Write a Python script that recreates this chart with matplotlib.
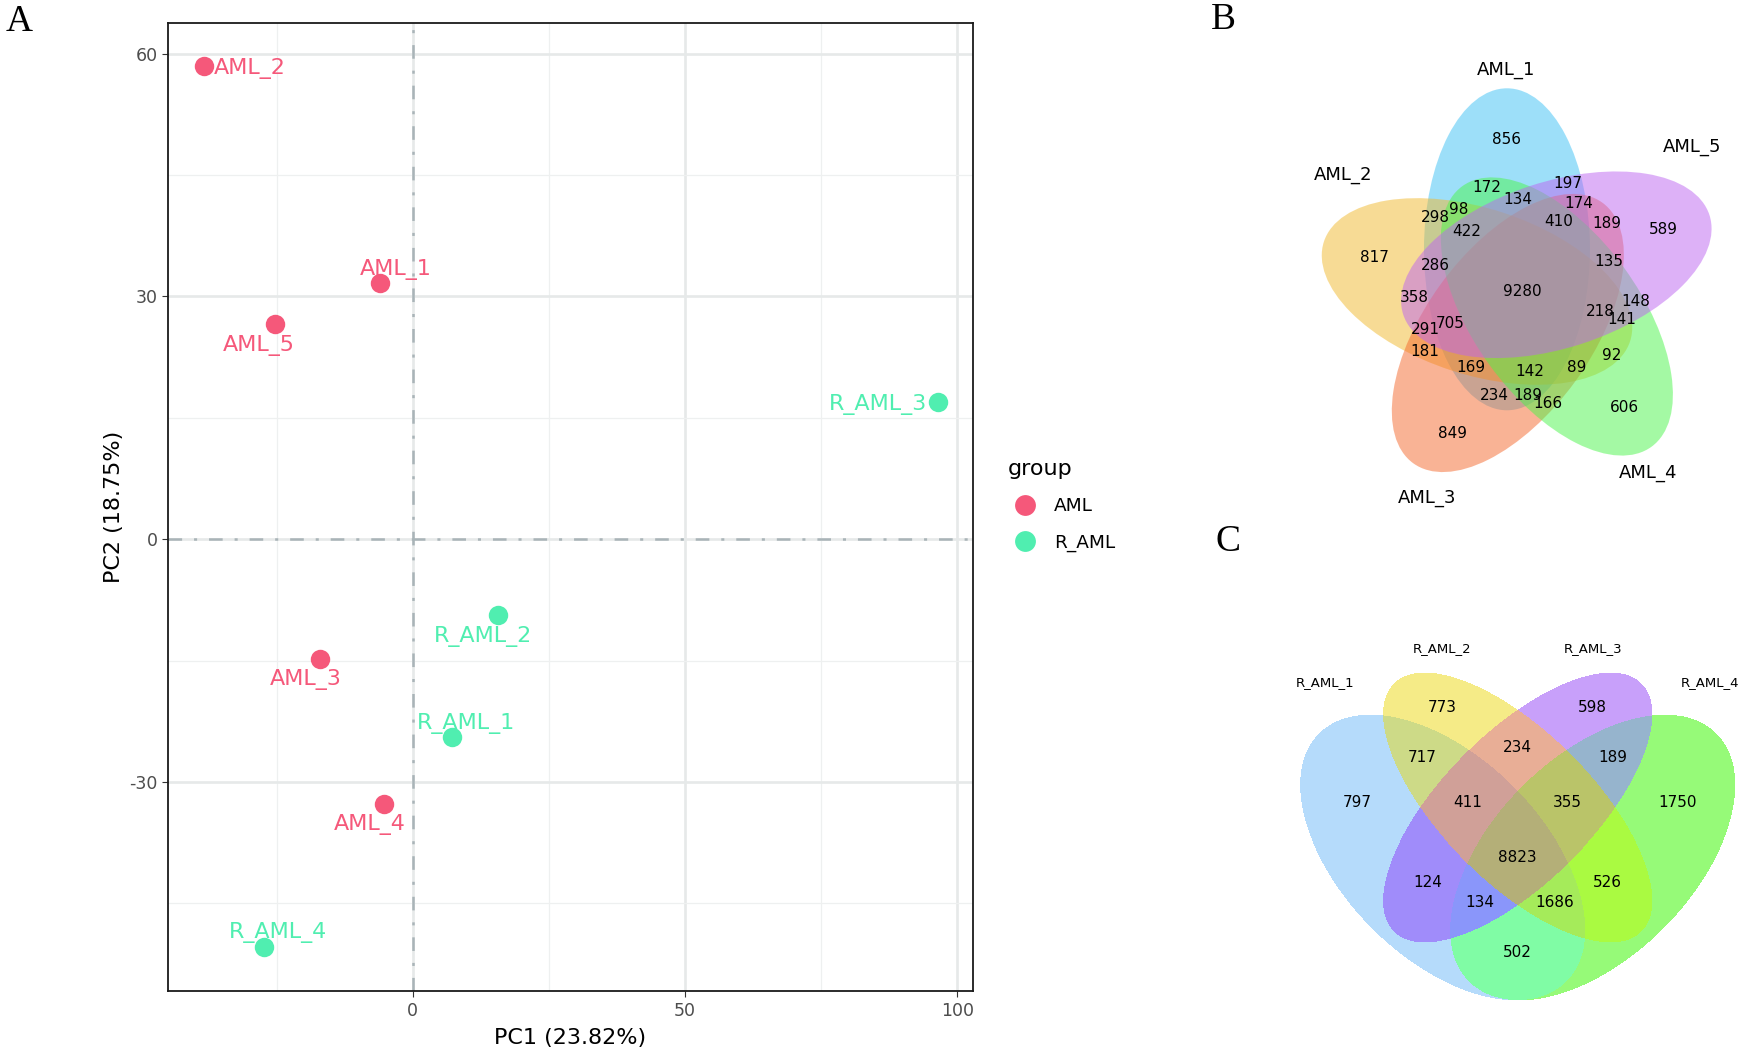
import matplotlib
matplotlib.use("Agg")
import matplotlib.pyplot as plt
from matplotlib.patches import Ellipse
from matplotlib.lines import Line2D
from matplotlib.colors import to_rgba
import numpy as np

plt.rcParams['lines.scale_dashes'] = False
plt.rcParams['axes.unicode_minus'] = False
plt.rcParams['font.family'] = ['DejaVu Sans']

# ---- datos: PCA (panel A) ----
aml_names = ["AML_1", "AML_2", "AML_3", "AML_4", "AML_5"]
aml_pc1 = [-5.95, -38.3, -17.1, -5.3, -25.3]
aml_pc2 = [31.7, 58.5, -14.8, -32.7, 26.6]
raml_names = ["R_AML_1", "R_AML_2", "R_AML_3", "R_AML_4"]
raml_pc1 = [7.2, 15.7, 96.4, -27.3]
raml_pc2 = [-24.5, -9.4, 16.9, -50.4]
pc1_var = 23.82
pc2_var = 18.75

# ---- datos: Venn de 5 conjuntos (panel B) ----
venn5_sets = ["AML_1", "AML_2", "AML_3", "AML_4", "AML_5"]
venn5_counts = [856, 172, 197, 134, 174, 298, 98, 410, 189, 589, 422, 817, 286,
                135, 9280, 358, 148, 218, 141, 291, 705, 181, 92, 169, 142, 89,
                234, 189, 166, 606, 849]

# ---- datos: Venn de 4 conjuntos (panel C) ----
venn4_sets = ["R_AML_1", "R_AML_2", "R_AML_3", "R_AML_4"]
venn4_counts = [773, 598, 717, 234, 189, 797, 411, 355, 1750, 8823, 124, 526,
                134, 1686, 502]

# ---- estilo / posiciones de etiquetas ----
col_aml = "#F5587A"
col_raml = "#50EEB0"
aml_offsets = [(10.8, 11.5), (33, 0), (-10, -13), (-10, -13), (-11.5, -13.7)]
raml_offsets = [(10, 12), (-11, -13.7), (-43, 0), (10, 12)]

venn5_colors = ["#3DC1F5", "#F1B92D", "#F5692D", "#4BF54B", "#BD65F1"]
venn5_label_xy = [(-15, 152), (-34, 103), (47, 107), (-3, 91), (58, 87),
                  (-86, 74), (-62, 82), (38, 70), (86, 68), (142, 62),
                  (-54, 59), (-147, 34), (-86, 25), (88, 29), (1, -1),
                  (-107, -7), (115, -11), (79, -21), (101, -29), (-96, -38),
                  (-71, -32), (-96, -60), (91, -64), (-50, -76), (9, -81),
                  (56, -76), (-27, -105), (7, -105), (27, -113), (103, -117),
                  (-69, -142)]
venn5_set_xy = [(-15, 221), (-178, 116), (-94, -207), (127, -182), (171, 144)]

# elipses del Venn de 4 (centro, ancho, alto, angulo) en coordenadas unitarias
venn4_ellipses = [((0.35, 0.47), 0.70, 0.40, -45),
                  ((0.50, 0.57), 0.70, 0.30, -45),
                  ((0.50, 0.57), 0.70, 0.30, 45),
                  ((0.65, 0.47), 0.70, 0.40, 45)]
# color de cada zona segun la combinacion de conjuntos (bit0 = R_AML_1 ... bit3 = R_AML_4)
venn4_zone_colors = {1: "#B5DBFB", 2: "#F5EB87", 4: "#C8A0FA", 8: "#96FA78",
                     3: "#CDDA87", 6: "#E8AE96", 12: "#96B4CD", 5: "#A08CFA",
                     10: "#AAFA41", 9: "#80FCA5", 7: "#D0A098", 14: "#BAC469",
                     13: "#8A96FA", 11: "#A5EB5A", 15: "#B4AF78"}
venn4_label_xy = [(0.35, 0.77), (0.65, 0.77), (0.31, 0.67), (0.50, 0.69),
                  (0.69, 0.67), (0.18, 0.58), (0.40, 0.58), (0.60, 0.58),
                  (0.82, 0.58), (0.50, 0.47), (0.32, 0.42), (0.68, 0.42),
                  (0.425, 0.38), (0.575, 0.38), (0.50, 0.28)]
venn4_set_xy = [(0.115, 0.819), (0.349, 0.887), (0.651, 0.887), (0.885, 0.819)]

W, H = 1744, 1048
fig = plt.figure(figsize=(W / 100, H / 100), dpi=100)

# ================= Panel A: PCA =================
ax = fig.add_axes([168.4 / W, 57.3 / H, 804.3 / W, 967.7 / H])
ax.set_xlim(-44.85, 102.8)
ax.set_ylim(-55.8, 63.8)
ax.set_xticks([0, 50, 100])
ax.set_xticks([-25, 25, 75], minor=True)
ax.set_yticks([-30, 0, 30, 60])
ax.set_yticks([-45, -15, 15, 45], minor=True)
ax.grid(which='major', color='#E6E9E9', lw=1.9, zorder=0)
ax.grid(which='minor', color='#EEF0F0', lw=0.9, zorder=0)
ax.set_axisbelow(True)
ax.tick_params(which='minor', length=0)
ax.tick_params(which='major', labelsize=12.5, labelcolor='#4D4D4D',
               color='#333333', length=4.3, width=0.8, pad=3.5)
for s in ax.spines.values():
    s.set_linewidth(1.3)
    s.set_color('#1A1A1A')

dotdash = (0, (9.8, 8.6, 2.2, 8.6))
ax.axvline(0, color='#A9B4B8', lw=1.8, ls=dotdash, zorder=1)
ax.axhline(0, color='#A9B4B8', lw=1.8, ls=dotdash, zorder=1)

ax.scatter(aml_pc1, aml_pc2, s=14 ** 2, color=col_aml, lw=0, zorder=3)
ax.scatter(raml_pc1, raml_pc2, s=14 ** 2, color=col_raml, lw=0, zorder=3)
for n, x, y, off in zip(aml_names, aml_pc1, aml_pc2, aml_offsets):
    ax.annotate(n, (x, y), xytext=off, textcoords='offset points',
                ha='center', va='center_baseline', color=col_aml, fontsize=16,
                zorder=4)
for n, x, y, off in zip(raml_names, raml_pc1, raml_pc2, raml_offsets):
    ax.annotate(n, (x, y), xytext=off, textcoords='offset points',
                ha='center', va='center_baseline', color=col_raml, fontsize=16,
                zorder=4)

ax.set_xlabel("PC1 ({}%)".format(pc1_var), fontsize=16, labelpad=6)
ax.set_ylabel("PC2 ({}%)".format(pc2_var), fontsize=16, labelpad=4)

handles = [Line2D([], [], ls='', marker='o', ms=15, color=col_aml, mew=0),
           Line2D([], [], ls='', marker='o', ms=15, color=col_raml, mew=0)]
leg = ax.legend(handles, ["AML", "R_AML"], title="group", loc='upper left',
                bbox_to_anchor=(1007.5 / W, 1 - 459 / H),
                bbox_transform=fig.transFigure, frameon=False, fontsize=13.3,
                title_fontsize=16, handlelength=1.9, handletextpad=0.62,
                labelspacing=1.0, borderpad=0, borderaxespad=0,
                alignment='left')

# ================= Panel B: Venn 5 =================
axB = fig.add_axes([1301 / W, 537 / H, 440 / W, 440 / H])
axB.set_xlim(-220, 220)
axB.set_ylim(-220, 220)
axB.axis('off')
for k, c in enumerate(venn5_colors):
    phi = np.deg2rad(108.6 + 72 * k)
    e = Ellipse((44 * np.cos(phi), 44 * np.sin(phi)), 322, 166,
                angle=90 + 72 * k, facecolor=c, alpha=0.5, lw=0)
    axB.add_patch(e)
for n, (x, y) in zip(venn5_counts, venn5_label_xy):
    axB.text(x, y, str(n), ha='center', va='center', fontsize=11, zorder=5)
for n, (x, y) in zip(venn5_sets, venn5_set_xy):
    axB.text(x, y, n, ha='center', va='center', fontsize=13, zorder=5)

# ================= Panel C: Venn 4 =================
axC = fig.add_axes([1267.5 / W, -44.5 / H, 500 / W, 500 / H])
axC.set_xlim(0, 1)
axC.set_ylim(0, 1)
axC.axis('off')

# mapa de zonas: cada pixel recibe el codigo de los conjuntos que lo contienen
n_grid = 1000
g = (np.arange(n_grid) + 0.5) / n_grid
gx, gy = np.meshgrid(g, g)
code = np.zeros(gx.shape, dtype=int)
for i, ((cx, cy), w, h, ang) in enumerate(venn4_ellipses):
    t = np.deg2rad(ang)
    dx, dy = gx - cx, gy - cy
    u = dx * np.cos(t) + dy * np.sin(t)
    v = -dx * np.sin(t) + dy * np.cos(t)
    inside = (u / (w / 2)) ** 2 + (v / (h / 2)) ** 2 <= 1
    code += inside.astype(int) << i
img = np.zeros(gx.shape + (4,))
for k, c in venn4_zone_colors.items():
    img[code == k] = to_rgba(c)
axC.imshow(img, extent=(0, 1, 0, 1), origin='lower', interpolation='nearest',
           aspect='auto')
for n, (x, y) in zip(venn4_counts, venn4_label_xy):
    axC.text(x, y, str(n), ha='center', va='center', fontsize=11, zorder=5)
for n, (x, y) in zip(venn4_sets, venn4_set_xy):
    axC.text(x, y, n, ha='center', va='center', fontsize=9.5, zorder=5)

# letras de panel
for lab, px, py in [("A", 19.5, 21.7), ("B", 1223, 20), ("C", 1228, 541.5)]:
    fig.text(px / W, 1 - py / H, lab, ha='center', va='center',
             family='Liberation Serif', fontsize=27)

fig.savefig("out.png", dpi=100)
